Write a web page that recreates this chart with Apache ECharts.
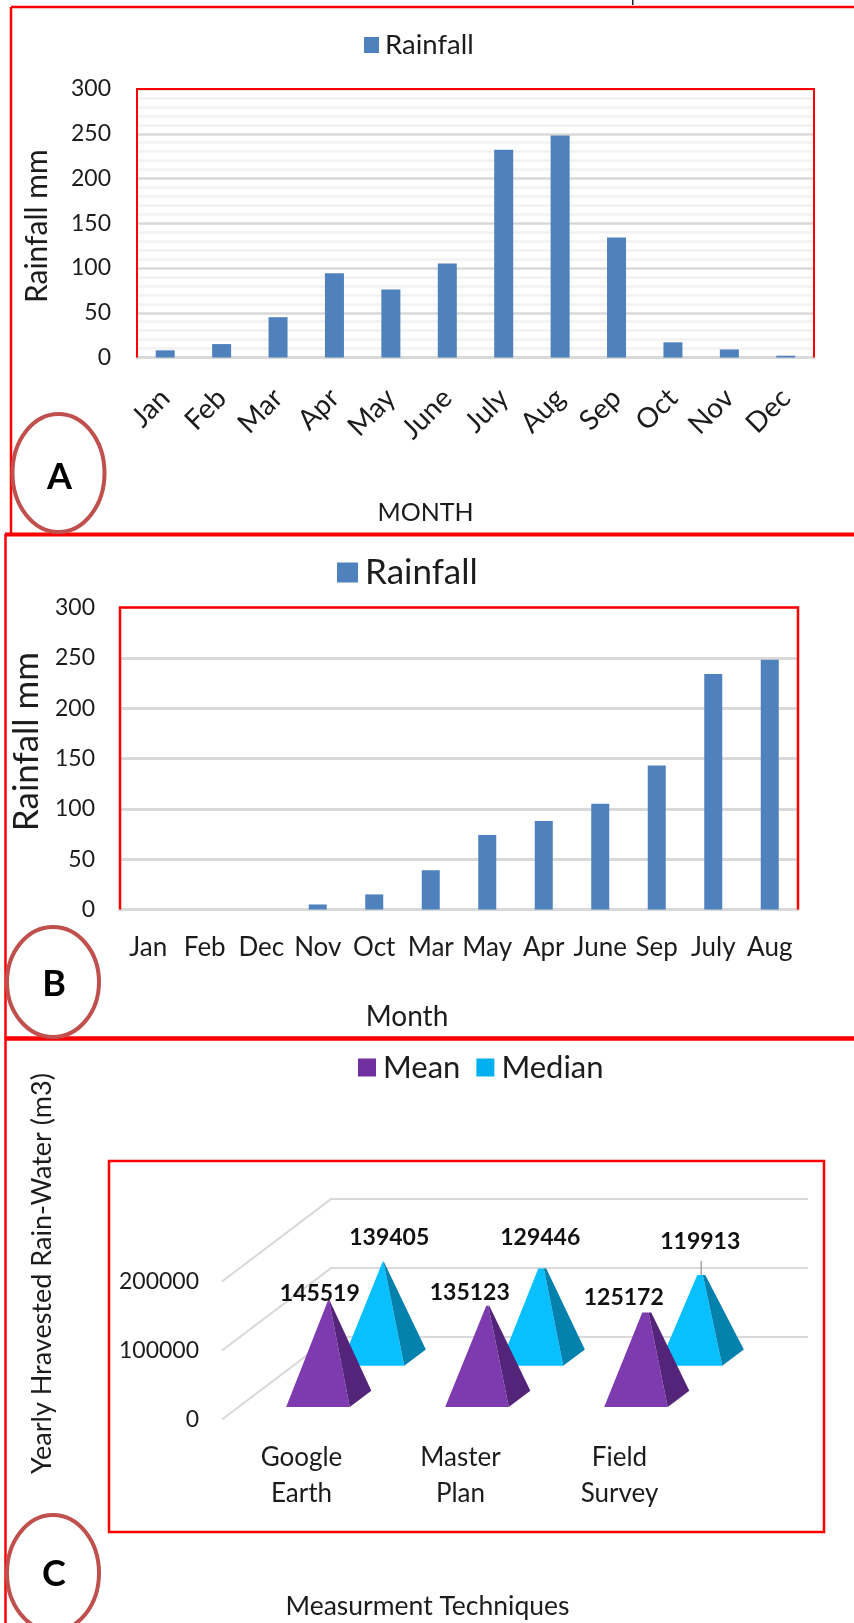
<!DOCTYPE html>
<html>
<head>
<meta charset="utf-8">
<title>Rainfall and harvested rain-water</title>
<script src="https://cdn.jsdelivr.net/npm/echarts@6/dist/echarts.min.js"></script>
<style>
html, body { margin: 0; padding: 0; background: #fff; }
#chart { width: 854px; height: 1623px; }
</style>
</head>
<body>
<div id="chart"></div>
<script>
// chart A
var monthsA = ["Jan", "Feb", "Mar", "Apr", "May", "June", "July", "Aug", "Sep", "Oct", "Nov", "Dec"];
var rainA = [8, 15, 45, 94, 76, 105, 232, 248, 134, 17, 9, 2];
// chart B, sorted by value in the source
var monthsB = ["Jan", "Feb", "Dec", "Nov", "Oct", "Mar", "May", "Apr", "June", "Sep", "July", "Aug"];
var rainB = [0, 0, 0, 5, 15, 39, 74, 88, 105, 143, 234, 248];
// chart C
var techniques = ["Google\nEarth", "Master\nPlan", "Field\nSurvey"];
var meanC = [145519, 135123, 125172];
var medianC = [139405, 129446, 119913];
var ticksC = [0, 100000, 200000];

var FONT = "Lato";
var TEXT = "#1c1c1c";
var RED = "#ff0000";
var BLUE = "#4f81bd";

// fake 3d floor of chart C, in px
var DEPTH_X = 109;
var DEPTH_Y = 82.4;
var WALL_W = 477;

// label shift from the pyramid tip, flat top width of each pyramid
var meanLabelPos = [[-9, -5], [-18, -13], [-23, -15]];
var medianLabelPos = [[6, -24], [-2, -31], [-1, -33]];
var meanTop = [0, 3, 9];
var medianTop = [1, 8, 8];

function wall(params, api) {
  var p = api.coord([0, api.value(1)]);
  var band = api.size([1, 0])[0];
  var x = p[0] - band / 2;
  return {
    type: "polyline",
    shape: { points: [[x, p[1]], [x + DEPTH_X, p[1] - DEPTH_Y], [x + DEPTH_X + WALL_W, p[1] - DEPTH_Y]] },
    style: { stroke: "#d9d9d9", lineWidth: 2, fill: null },
  };
}

function pyramid(depth, front, side, labelPos, tops) {
  return function (params, api) {
    var i = params.dataIndex;
    var floor = api.coord([api.value(0), 0]);
    var top = api.coord([api.value(0), api.value(1)]);
    var band = api.size([1, 0])[0];
    var cx = floor[0] + depth * DEPTH_X;
    var cy = floor[1] - depth * DEPTH_Y;
    var hw = band * 0.2;
    var hdx = 0.099 * DEPTH_X;
    var hdy = 0.099 * DEPTH_Y;
    var ay = cy - (floor[1] - top[1]);
    var w = tops[i];
    var fl = [cx - hw - hdx, cy + hdy];
    var fr = [cx + hw - hdx, cy + hdy];
    var br = [cx + hw + hdx, cy - hdy];
    var children = [
      { type: "polygon", shape: { points: [fl, fr, [cx + w * 0.2, ay], [cx - w / 2, ay]] }, style: { fill: front } },
      { type: "polygon", shape: { points: [fr, br, [cx + w / 2, ay], [cx + w * 0.2, ay]] }, style: { fill: side } },
      {
        type: "text",
        style: {
          text: String(api.value(1)),
          x: cx + labelPos[i][0],
          y: ay + labelPos[i][1],
          align: "center",
          verticalAlign: "middle",
          font: "bold 23px " + FONT,
          fill: "#111",
        },
      },
    ];
    // the last label has a leader line
    if (labelPos[i][1] == -33) {
      children.push({
        type: "line",
        shape: { x1: cx, y1: ay - 14, x2: cx, y2: ay },
        style: { stroke: "#a6a6a6", lineWidth: 1.5 },
      });
    }
    return { type: "group", children: children };
  };
}

function circle(cx, cy, rx, ry, letter, ly) {
  return [
    { type: "ellipse", z: 20, shape: { cx: cx, cy: cy, rx: rx, ry: ry }, style: { fill: null, stroke: "#c0504d", lineWidth: 4 } },
    {
      type: "text", z: 20,
      style: { text: letter, x: cx + 1, y: ly, align: "center", verticalAlign: "middle", font: "bold 36px " + FONT, fill: "#000" },
    },
  ];
}

function redLine(x1, y1, x2, y2, w) {
  return { type: "line", z: 20, shape: { x1: x1, y1: y1, x2: x2, y2: y2 }, style: { stroke: RED, lineWidth: w } };
}

// three sides only, the grey axis line closes the box at the bottom
function plotBox(x, y, w, h, lw) {
  return {
    type: "polyline", z: 20,
    shape: { points: [[x, y + h], [x, y], [x + w, y], [x + w, y + h]] },
    style: { fill: null, stroke: RED, lineWidth: lw },
  };
}

var graphics = [
  redLine(11, 7, 854, 7, 2.5),
  redLine(11, 7, 11, 534, 2.5),
  redLine(5, 534.5, 854, 534.5, 4),
  redLine(5.5, 534, 5.5, 1623, 2.5),
  redLine(5, 1038.5, 854, 1038.5, 4.5),
  plotBox(137, 89, 677, 268.5, 2),
  plotBox(120, 607.5, 678, 302, 2.5),
  { type: "rect", z: 20, shape: { x: 109, y: 1161, width: 715, height: 371 }, style: { fill: null, stroke: RED, lineWidth: 2.5 } },
  { type: "rect", shape: { x: 632, y: 0, width: 1.5, height: 5 }, style: { fill: "#222" } },
].concat(
  circle(58.5, 473, 46, 59, "A", 477),
  circle(53, 982, 46, 55, "B", 984),
  circle(53, 1573, 46, 58, "C", 1574)
);

var option = {
  animation: false,
  textStyle: { fontFamily: FONT, color: TEXT },
  graphic: graphics,
  legend: [
    {
      data: ["Rainfall"], left: 364, top: 31, padding: 0, selectedMode: false, icon: "rect",
      itemWidth: 15, itemHeight: 16, itemGap: 9,
      textStyle: { fontFamily: FONT, fontSize: 27.5, color: TEXT, padding: [0, 0, 0, 1] },
    },
    {
      data: ["Rainfall"], left: 337, top: 555, padding: 0, selectedMode: false, icon: "rect",
      itemWidth: 21, itemHeight: 20,
      textStyle: { fontFamily: FONT, fontSize: 35, color: TEXT, padding: [0, 0, 0, 2] },
    },
    {
      data: ["Mean", "Median"], left: 358, top: 1052, padding: 0, selectedMode: false, icon: "rect",
      itemWidth: 18, itemHeight: 18, itemGap: 16,
      textStyle: { fontFamily: FONT, fontSize: 31, color: TEXT, padding: [0, 0, 0, 2] },
    },
  ],
  grid: [
    { left: 137, top: 89, width: 677, height: 268.5, outerBoundsMode: "none" },
    { left: 120, top: 607.5, width: 678, height: 302, outerBoundsMode: "none" },
    { left: 222, top: 1281.5, width: 477, height: 138, outerBoundsMode: "none" },
  ],
  xAxis: [
    {
      gridIndex: 0, type: "category", data: monthsA,
      axisTick: { show: false },
      axisLine: { lineStyle: { color: "#d9d9d9", width: 3 } },
      axisLabel: { rotate: 45, fontSize: 28, margin: 36, color: TEXT, interval: 0 },
      name: "MONTH", nameLocation: "middle", nameGap: 143,
      nameTextStyle: { fontSize: 25, color: TEXT, padding: [0, 100, 0, 0] },
    },
    {
      gridIndex: 1, type: "category", data: monthsB,
      axisTick: { show: false },
      axisLine: { lineStyle: { color: "#d9d9d9", width: 3 } },
      axisLabel: { fontSize: 26, margin: 25, color: TEXT, interval: 0 },
      name: "Month", nameLocation: "middle", nameGap: 93,
      nameTextStyle: { fontSize: 28, color: TEXT, padding: [0, 104, 0, 0] },
    },
    {
      gridIndex: 2, type: "category", data: techniques,
      axisTick: { show: false },
      axisLine: { show: false },
      axisLabel: { fontSize: 26, lineHeight: 36, margin: 20, color: TEXT, interval: 0 },
      name: "Measurment Techniques", nameLocation: "middle", nameGap: 173,
      nameTextStyle: { fontSize: 26.5, color: TEXT, padding: [0, 66, 0, 0] },
    },
  ],
  yAxis: [
    {
      gridIndex: 0, type: "value", min: 0, max: 300, interval: 50, splitNumber: 6,
      minorSplitLine: { show: true, lineStyle: { color: "#f2f2f2", width: 2.5 } },
      minorTick: { show: false, splitNumber: 5 },
      splitLine: { lineStyle: { color: "#d9d9d9", width: 2.5 } },
      axisLine: { show: false },
      axisTick: { show: false },
      axisLabel: { fontSize: 23, margin: 26, color: TEXT },
      name: "Rainfall mm", nameLocation: "middle", nameGap: 85, nameRotate: 90,
      nameTextStyle: { fontSize: 30, color: TEXT, padding: [0, 6, 0, 0] },
    },
    {
      gridIndex: 1, type: "value", min: 0, max: 300, interval: 50,
      splitLine: { lineStyle: { color: "#d9d9d9", width: 3 } },
      axisLine: { show: false },
      axisTick: { show: false },
      axisLabel: { fontSize: 23, margin: 25, color: TEXT },
      name: "Rainfall mm", nameLocation: "middle", nameGap: 70, nameRotate: 90,
      nameTextStyle: { fontSize: 35, color: TEXT, padding: [0, 0, 0, 34] },
    },
    {
      gridIndex: 2, type: "value", min: 0, max: 200000, interval: 100000,
      splitLine: { show: false },
      axisLine: { show: false },
      axisTick: { show: false },
      axisLabel: { fontSize: 23, margin: 23, color: TEXT, formatter: function (v) { return String(v); } },
      name: "Yearly Hravested Rain-Water (m3)", nameLocation: "middle", nameGap: 166, nameRotate: 90,
      nameTextStyle: { fontSize: 27, color: TEXT, padding: [0, 0, 0, 154] },
    },
  ],
  series: [
    { type: "bar", name: "Rainfall", xAxisIndex: 0, yAxisIndex: 0, data: rainA, barWidth: 19, itemStyle: { color: BLUE } },
    { type: "bar", name: "Rainfall", xAxisIndex: 1, yAxisIndex: 1, data: rainB, barWidth: 18, itemStyle: { color: BLUE } },
    {
      type: "custom", name: "walls", xAxisIndex: 2, yAxisIndex: 2, renderItem: wall,
      data: ticksC.map(function (t) { return [0, t]; }),
      encode: { x: 0, y: 1 }, silent: true,
    },
    {
      type: "custom", name: "Median", xAxisIndex: 2, yAxisIndex: 2,
      renderItem: pyramid(0.75, "#08bfff", "#0481ad", medianLabelPos, medianTop),
      data: medianC.map(function (v, i) { return [i, v]; }),
      encode: { x: 0, y: 1 }, itemStyle: { color: "#00b0f0" },
    },
    {
      type: "custom", name: "Mean", xAxisIndex: 2, yAxisIndex: 2,
      renderItem: pyramid(0.25, "#7e3bb0", "#54247a", meanLabelPos, meanTop),
      data: meanC.map(function (v, i) { return [i, v]; }),
      encode: { x: 0, y: 1 }, itemStyle: { color: "#7030a0" },
    },
  ],
};

var chart = echarts.init(document.getElementById("chart"));
chart.setOption(option);
</script>
</body>
</html>
